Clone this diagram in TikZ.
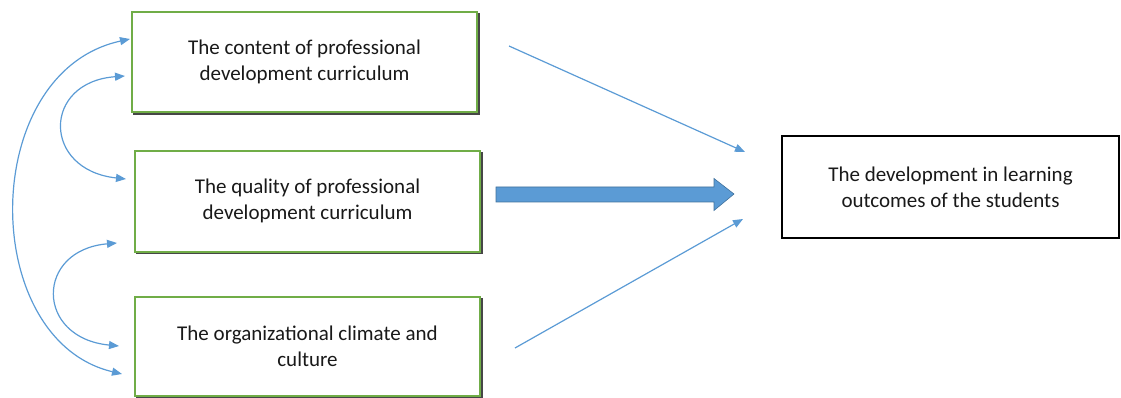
\documentclass[tikz,border=0pt]{standalone}
\usepackage{fontspec}
\setmainfont{Carlito}
\usetikzlibrary{arrows.meta,calc}
\definecolor{boxgreen}{RGB}{112,173,71}
\definecolor{arrowblue}{RGB}{91,155,213}
\definecolor{arrowedge}{RGB}{65,113,156}
\definecolor{txt}{RGB}{25,25,25}
\definecolor{shadowgray}{RGB}{70,70,70}
\begin{document}
\begin{tikzpicture}[x=1pt,y=-1pt,
  btip/.tip={Triangle[length=10pt,width=8pt]},
  label text/.style={align=center, font=\fontsize{21}{26}\selectfont, text=txt, inner sep=0pt},
  factorbox/.style={label text, draw=boxgreen, line width=2pt, fill=white,
    minimum width=345pt,
    preaction={draw=shadowgray, line width=1.6pt, transform canvas={shift={(1.9pt,-1.9pt)}}}},
  outcomebox/.style={label text, draw=black, line width=2.6pt, fill=white,
    minimum width=337pt, minimum height=102pt},
  thinarrow/.style={draw=arrowblue, line width=1.2pt, -btip},
  curvearrow/.style={draw=arrowblue, line width=1.2pt, btip-btip},
  bigarrow/.style={fill=arrowblue, draw=arrowedge, line width=0.6pt}
]
\useasboundingbox (0,0) rectangle (1121,398);

% boxes
\node[factorbox, minimum height=100pt] (b1) at (304.5,62) {The content of professional\\development curriculum};
\node[factorbox, minimum height=101pt] (b2) at (307.5,201.2) {The quality of professional\\development curriculum};
\node[factorbox, minimum height=99pt] (b3) at (307.5,346.3) {The organizational climate and\\culture};
\node[outcomebox] (out) at (950.5,187) {The development in learning\\outcomes of the students};

% free ends of connectors
\coordinate (a1s) at (509,46);
\coordinate (a1e) at (745,152);
\coordinate (a3s) at (515,348);
\coordinate (a3e) at (743,219);
\coordinate (ts) at (496,194.5);
\coordinate (tb) at (714,194.5);
\coordinate (te) at (734,194);

% thin arrows
\draw[thinarrow] (a1s) -- (a1e);
\draw[thinarrow] (a3s) -- (a3e);

% thick arrow
\draw[bigarrow] ($(ts)+(0,-7.5)$) -- ($(tb)+(0,-7.5)$) -- ($(tb)+(0,-16)$) -- (te)
  -- ($(tb)+(0,16)$) -- ($(tb)+(0,7.5)$) -- ($(ts)+(0,7.5)$) -- cycle;

% curved double arrows
\coordinate (c1a) at (130,39);
\coordinate (c1b) at (122,374);
\coordinate (c2a) at (125,76);
\coordinate (c2b) at (126,179);
\coordinate (c3a) at (117,243);
\coordinate (c3b) at (119,346);
\draw[curvearrow] (c1a) .. controls (-22,72) and (-22,340) .. (c1b);
\draw[curvearrow] (c2a) .. controls (42,82) and (42,170) .. (c2b);
\draw[curvearrow] (c3a) .. controls (35,250) and (35,338) .. (c3b);
\end{tikzpicture}
\end{document}
